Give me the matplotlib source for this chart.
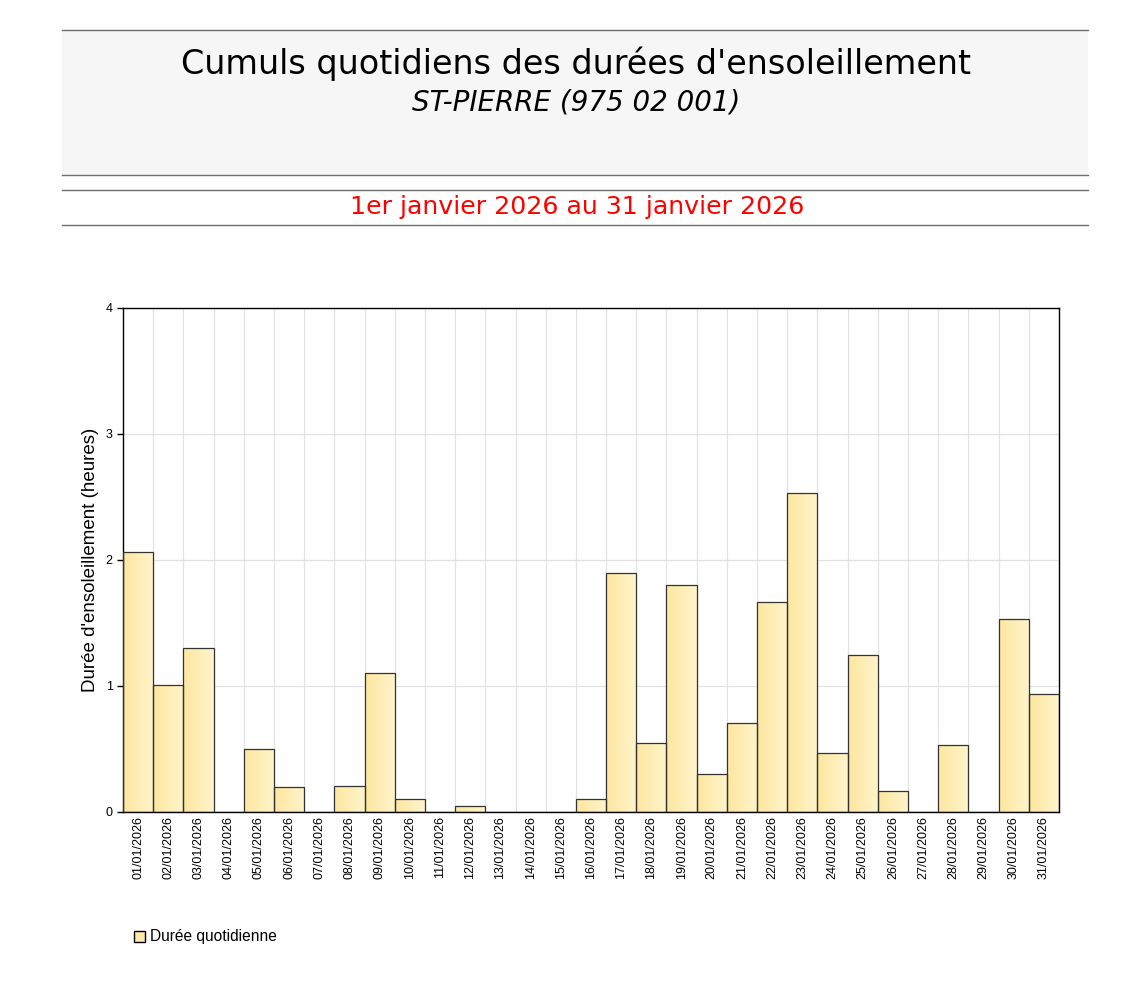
import matplotlib
matplotlib.use('Agg')
import matplotlib.pyplot as plt
import numpy as np
from matplotlib.patches import Rectangle

# daily sunshine durations (hours), January 2026, ST-PIERRE
dates = ['%02d/01/2026' % d for d in range(1, 32)]
hours = [2.06, 1.01, 1.30, 0.0, 0.50, 0.20, 0.0, 0.21, 1.10, 0.10,
         0.0, 0.05, 0.0, 0.0, 0.0, 0.10, 1.90, 0.55, 1.80, 0.30,
         0.71, 1.67, 2.53, 0.47, 1.25, 0.17, 0.0, 0.53, 0.0, 1.53,
         0.94]
yticks = [0, 1, 2, 3, 4]

title = "Cumuls quotidiens des durées d'ensoleillement"
station = "ST-PIERRE (975 02 001)"
period = "1er janvier 2026 au 31 janvier 2026"
ylabel = "Durée d'ensoleillement (heures)"
legend_label = "Durée quotidienne"

W, H = 1139, 999
fig = plt.figure(figsize=(W / 100, H / 100), dpi=100)

def fx(px):
    return px / W

def fy(py):
    return 1 - py / H

# header band
fig.patches.append(Rectangle((fx(62), fy(175)), fx(1088 - 62), (175 - 30) / H,
                             transform=fig.transFigure, facecolor='#f6f6f6',
                             edgecolor='none', zorder=0))
for yy in [30, 175, 190, 225]:
    fig.add_artist(plt.Line2D([fx(62), fx(1088)], [fy(yy), fy(yy)],
                              transform=fig.transFigure, color='#6e6e6e', lw=1))
fig.text(fx(576), fy(64), title, ha='center', va='center', fontsize=24,
         family='DejaVu Sans')
fig.text(fx(576), fy(102), station, ha='center', va='center', fontsize=20,
         style='italic', family='DejaVu Sans')
fig.text(fx(577), fy(207), period, ha='center', va='center', fontsize=18.2,
         color='red', family='DejaVu Sans')

# plot area
ax = fig.add_axes([fx(123), fy(812), fx(1059 - 123), (812 - 308) / H])
x = np.arange(len(dates))
bars = ax.bar(x, hours, width=1.0, facecolor='none', edgecolor='#333333',
              linewidth=0.9, zorder=3)

# horizontal gradient inside each bar
grad = np.linspace(0, 1, 64).reshape(1, -1)
cmap = matplotlib.colors.LinearSegmentedColormap.from_list(
    'sun', ['#fde79f', '#fff4cc'])
for b in bars:
    if b.get_height() <= 0:
        continue
    im = ax.imshow(grad, cmap=cmap, aspect='auto', zorder=2,
                   extent=(b.get_x(), b.get_x() + b.get_width(), 0, b.get_height()))
    im.set_clip_path(b)

ax.set_xlim(-0.5, len(dates) - 0.5)
ax.set_ylim(0, 4)
ax.set_yticks(yticks)
ax.set_yticklabels([str(t) for t in yticks], fontsize=9, family='Liberation Sans')
ax.set_xticks(x)
ax.set_xticklabels(dates, rotation=90, fontsize=9, family='Liberation Sans')
ax.set_xticks(x[:-1] + 0.5, minor=True)
ax.tick_params(axis='x', which='major', length=0, pad=3)
ax.tick_params(axis='x', which='minor', length=0)
ax.tick_params(axis='y', length=4, width=1)
ax.grid(True, which='minor', axis='x', color='#e2e2e2', lw=0.9, zorder=0)
ax.grid(True, which='major', axis='y', color='#e2e2e2', lw=0.9, zorder=0)
for s in ax.spines.values():
    s.set_color('black')
    s.set_linewidth(1)
ax.set_ylabel(ylabel, fontsize=13.5, family='Liberation Sans', labelpad=5)

# legend
fig.patches.append(Rectangle((fx(134), fy(942)), fx(11), 11 / H,
                             transform=fig.transFigure, facecolor='#fde9a8',
                             edgecolor='black', lw=1))
fig.text(fx(150), fy(937), legend_label, ha='left', va='center', fontsize=11.2,
         family='Liberation Sans')

fig.savefig('out.png', dpi=100)
